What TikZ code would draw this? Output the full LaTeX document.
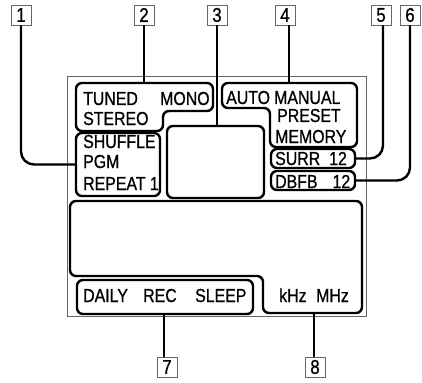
\documentclass[tikz,border=0pt]{standalone}
\usepackage{fontspec}
\setmainfont{Liberation Sans}[FakeStretch=0.845,FakeBold=0.8]
\begin{document}
\begin{tikzpicture}[x=1pt,y=-1pt,
  disp/.style={line width=2.4pt, rounded corners=6pt},
  conn/.style={line width=2.4pt},
  lab/.style={draw=black!60, line width=0.8pt, minimum width=20pt, minimum height=20pt, inner sep=0pt, font=\fontsize{20}{20}\selectfont},
  txt/.style={anchor=base west, inner sep=0pt, font=\fontsize{18.8}{18.8}\selectfont}]
\useasboundingbox (0,0) rectangle (422,382);
% outer frame
\draw[black!60, line width=0.8pt] (67,76) rectangle (366,316);
% display segments
\draw[disp] (76,83) -- (213,83) -- (213,111) -- (163,111) -- (163,131) -- (76,131) -- cycle;
\draw[disp] (76,133) rectangle (160,196);
\draw[disp] (167,126) rectangle (264,198);
\draw[disp] (222,83) -- (357,83) -- (357,147) -- (270,147) -- (270,108) -- (222,108) -- cycle;
\draw[disp] (271,149) rectangle (355,168);
\draw[disp] (271,171) rectangle (355,190);
\draw[disp] (70,201) -- (362,201) -- (362,313) -- (263,313) -- (263,276) -- (70,276) -- cycle;
\draw[disp] (77,280) rectangle (253,314);
% connection points
\coordinate (b1W) at (76,164.5);
\coordinate (b2N) at (144,83);
\coordinate (b3N) at (217,126);
\coordinate (b4N) at (289,83);
\coordinate (surrE) at (355,158.5);
\coordinate (dbfbE) at (355,180.5);
\coordinate (dailyS) at (164,314);
\coordinate (khzS) at (314,313);
% labels
\node[lab] (lab1) at (21,15) {1};
\node[lab] (lab2) at (144,15) {2};
\node[lab] (lab3) at (217,15) {3};
\node[lab] (lab4) at (285,15) {4};
\node[lab] (lab5) at (381,15) {5};
\node[lab] (lab6) at (410,15) {6};
\node[lab] (lab7) at (167,367) {7};
\node[lab] (lab8) at (315,367) {8};
% connectors
\draw[conn, rounded corners=13pt] (lab1.south) |- (b1W);
\draw[conn] (lab2.south) -- (b2N);
\draw[conn] (lab3.south) -- (b3N);
\draw[conn] (b4N |- lab4.south) -- (b4N);
\draw[conn, rounded corners=13pt] ([xshift=2pt]lab5.south) |- (surrE);
\draw[conn, rounded corners=13pt] (lab6.south) |- (dbfbE);
\draw[conn] (dailyS) -- (dailyS |- lab7.north);
\draw[conn] (khzS) -- (khzS |- lab8.north);
% texts
\node[txt] at (83,105) {TUNED};
\node[txt] at (160,105) {MONO};
\node[txt] at (83,125) {STEREO};
\node[txt] at (83,148) {SHUFFLE};
\node[txt] at (83,168) {PGM};
\node[txt] at (83,190) {REPEAT 1};
\node[txt] at (226,104) {AUTO};
\node[txt] at (274,104) {MANUAL};
\node[txt] at (277,122) {PRESET};
\node[txt] at (275,143) {MEMORY};
\node[txt] at (275,165) {SURR\hspace{9pt}12};
\node[txt] at (275,188) {DBFB\hspace{15pt}12};
\node[txt] at (83,302) {DAILY};
\node[txt] at (143,302) {REC};
\node[txt] at (195,302) {SLEEP};
\node[txt] at (279,302) {kHz};
\node[txt] at (316,302) {MHz};
\end{tikzpicture}
\end{document}
